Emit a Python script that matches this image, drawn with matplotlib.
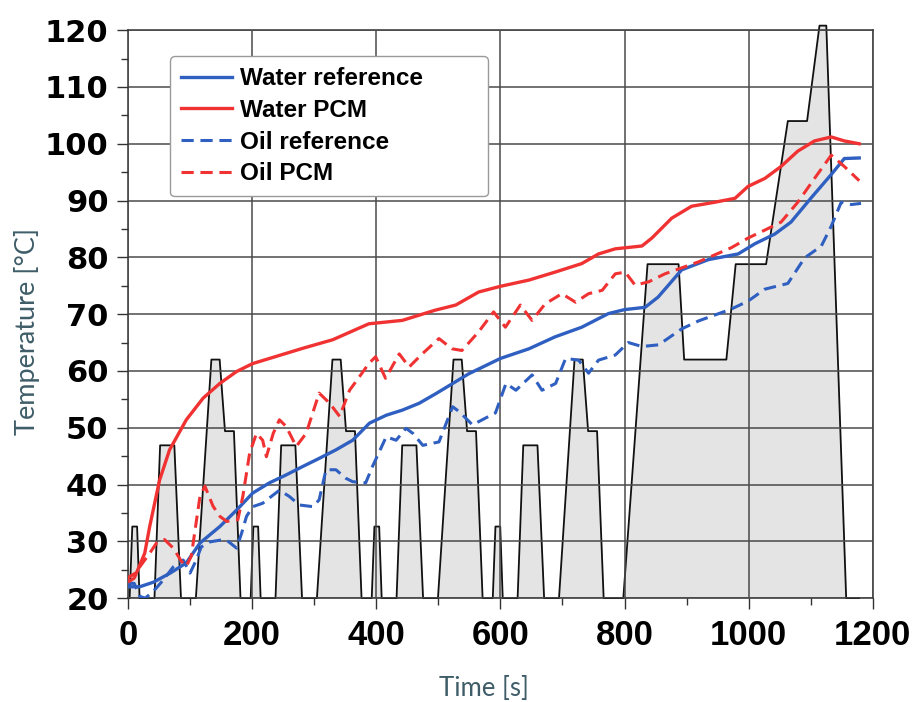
import numpy as np
import matplotlib
matplotlib.use('Agg')
from matplotlib import pyplot as plt

# driving cycle (drawn on the temperature scale), one urban block + extra-urban part
ece_t = [0, 2.7, 7, 14.7, 18.7, 42.7, 51.8, 74.7, 85.4, 109.4, 134.4, 147.7, 156.3, 170.7, 181.3]
ece_v = [20, 20, 32.6, 32.6, 20, 20, 46.9, 46.9, 20, 20, 62, 62, 49.4, 49.4, 20]
ece_starts = [0, 195, 390, 585]
eudc_t = [798, 837, 887, 896, 964, 979, 1028, 1063, 1094, 1114, 1125, 1157, 1178]
eudc_v = [20, 78.8, 78.8, 62, 62, 78.8, 78.8, 104, 104, 120.8, 120.8, 20, 20]

x_ticks = [0, 200, 400, 600, 800, 1000, 1200]
y_ticks = [20, 30, 40, 50, 60, 70, 80, 90, 100, 110, 120]

# Water reference
wr_t = [0, 3, 19, 41, 68, 94, 116, 148, 175, 201, 228, 255, 282, 308, 335, 362, 389, 416, 442,
        469, 496, 549, 600, 646, 688, 731, 774, 800, 833, 854, 892, 935, 983, 1010, 1042, 1068,
        1100, 1133, 1154, 1178]
wr_T = [22, 22, 22, 22.8, 24.4, 26.2, 29.7, 32.6, 35.5, 38.5, 40.3, 41.7, 43.2, 44.6, 46.1, 47.8,
        50.8, 52.2, 53.1, 54.3, 56.0, 59.5, 62.2, 63.9, 66.0, 67.7, 70.1, 70.8, 71.2, 73, 77.8,
        79.6, 80.6, 82.4, 84.1, 86.2, 90.4, 94.6, 97.4, 97.5]

# Water PCM
wp_t = [0, 3, 14, 27, 35, 51, 67, 94, 121, 148, 175, 201, 228, 255, 282, 330, 388, 442, 495, 528,
        565, 600, 646, 688, 731, 758, 785, 828, 844, 876, 908, 945, 978, 999, 1026, 1052, 1079,
        1106, 1133, 1154, 1178]
wp_T = [23.5, 23.8, 24.5, 27.9, 32.6, 40.8, 46.1, 51.4, 55.2, 57.8, 59.9, 61.3, 62.2, 63.1, 64.0,
        65.5, 68.3, 68.9, 70.7, 71.6, 73.9, 74.9, 76.0, 77.4, 78.9, 80.6, 81.5, 82.0, 83.4, 86.9,
        89.0, 89.7, 90.4, 92.5, 93.9, 96.0, 98.7, 100.5, 101.2, 100.5, 100.0]

# Oil reference
or_t = [0, 10, 19, 28, 41, 57, 73, 89, 100, 110, 118, 132, 148, 159, 175, 183, 191, 201, 217, 231,
        244, 260, 276, 298, 308, 319, 335, 351, 362, 383, 394, 416, 432, 448, 459, 475, 501, 523,
        534, 555, 576, 592, 609, 625, 651, 667, 689, 705, 726, 742, 758, 785, 806, 828, 855, 892,
        919, 972, 999, 1026, 1063, 1090, 1117, 1133, 1149, 1165, 1181]
or_T = [22.6, 22.6, 20.3, 20.0, 21.2, 23.2, 25.5, 26.7, 24.4, 26.7, 29.0, 29.9, 30.2, 30.2, 28.8,
        31.4, 34.4, 36.1, 36.7, 37.9, 39.0, 37.9, 36.4, 36.1, 37.3, 42.6, 42.6, 41.1, 40.5, 40.3,
        43.2, 48.4, 47.8, 49.9, 49.0, 46.9, 47.5, 53.7, 52.8, 50.5, 51.7, 52.6, 57.8, 56.6, 59.3,
        56.6, 57.8, 62.2, 61.9, 59.6, 61.9, 62.8, 65.0, 64.3, 64.6, 67.4, 68.8, 70.9, 72.3, 74.4,
        75.4, 79.9, 82.0, 85.5, 89.7, 89.3, 89.5]

# Oil PCM
op_t = [0, 10, 19, 35, 46, 59, 73, 86, 94, 102, 116, 124, 137, 148, 159, 177, 185, 196, 207, 217,
        223, 234, 244, 255, 271, 287, 308, 325, 341, 357, 373, 388, 399, 415, 437, 453, 474, 501,
        522, 538, 565, 589, 608, 632, 651, 672, 699, 721, 742, 764, 785, 801, 817, 839, 865, 919,
        972, 999, 1026, 1052, 1079, 1106, 1133, 1154, 1178]
op_T = [22.8, 23.5, 25.5, 27.9, 29.7, 30.3, 28.8, 26.5, 25.6, 27.4, 37.9, 39.7, 36.2, 34.4, 33.5,
        33.8, 37.9, 45.5, 49.0, 47.8, 44.9, 49.0, 51.4, 50.2, 46.7, 49.0, 56.1, 54.3, 52.0, 56.6,
        59.0, 61.3, 62.5, 58.7, 63.0, 60.7, 63.0, 65.7, 63.9, 63.6, 66.9, 70.4, 67.7, 71.6, 68.9,
        71.8, 73.6, 72.1, 73.6, 74.2, 77.1, 77.4, 75.1, 75.7, 77.1, 79.2, 81.7, 83.4, 84.8, 86.2,
        89.7, 93.9, 98.0, 96.0, 93.5]

BLUE = '#2f5fc0'
RED = '#f03232'
LABEL_COL = '#3f5d68'

cyc_t = []
cyc_v = []
for st in ece_starts:
    cyc_t += [st + t for t in ece_t]
    cyc_v += ece_v
cyc_t += eudc_t
cyc_v += eudc_v

fig = plt.figure(figsize=(9.14, 7.02), dpi=100)
ax = fig.add_axes([0.140, 0.148, 0.815, 0.809])

ax.fill_between(cyc_t, 20, cyc_v, color='#e4e4e4', lw=0, zorder=1, clip_on=False)
ax.plot(cyc_t, cyc_v, color='#111111', lw=1.3, zorder=1.2, clip_on=False)

ax.plot(wr_t, wr_T, color=BLUE, lw=2.4, label='Water reference', zorder=3)
ax.plot(wp_t, wp_T, color=RED, lw=2.4, label='Water PCM', zorder=3)
ax.plot(or_t, or_T, color=BLUE, lw=2.2, ls=(0, (4, 2.2)), label='Oil reference', zorder=3)
ax.plot(op_t, op_T, color=RED, lw=2.2, ls=(0, (4, 2.2)), label='Oil PCM', zorder=3)

ax.set_xlim(0, 1200)
ax.set_ylim(20, 120)
ax.set_xticks(x_ticks, [str(v) for v in x_ticks],
              fontdict={'family': 'Liberation Sans', 'weight': 'bold', 'size': 25})
ax.set_xticks(np.arange(0, 1201, 100), minor=True)
ax.set_yticks(y_ticks, [str(v) for v in y_ticks],
              fontdict={'family': 'DejaVu Sans', 'weight': 'bold', 'size': 22})
ax.set_yticks(np.arange(20, 121, 5), minor=True)
ax.set_axisbelow('line')
ax.grid(True, which='major', color='#4a4a4a', lw=1.1)
for sp in ax.spines.values():
    sp.set_color('#333333')
    sp.set_linewidth(1.1)
    sp.set_zorder(1.5)

ax.tick_params(which='major', direction='out', length=8, width=1, color='#333333')
ax.tick_params(which='minor', direction='out', length=5, width=1, color='#333333')
ax.tick_params(axis='y', pad=6)
ax.tick_params(axis='x', pad=7)

ax.set_ylabel('Temperature [°C]', fontsize=19.5, color=LABEL_COL, family='Lato')
ax.set_xlabel('Time [s]', fontsize=18.5, color=LABEL_COL, family='Lato')
ax.yaxis.set_label_coords(-0.118, 0.47)
ax.xaxis.set_label_coords(0.478, -0.138)

leg = ax.legend(loc='upper left', bbox_to_anchor=(0.056, 0.954, 0.427, 0.0), mode='expand',
                borderaxespad=0,
                prop={'family': 'Liberation Sans', 'weight': 'bold', 'size': 17.5},
                handlelength=2.1, handletextpad=0.35, labelspacing=0.36, borderpad=0.45,
                fancybox=True, framealpha=1, edgecolor='#9a9a9a')
leg.get_frame().set_linewidth(1)
leg.set_zorder(5)

plt.savefig('out.png', dpi=100)
